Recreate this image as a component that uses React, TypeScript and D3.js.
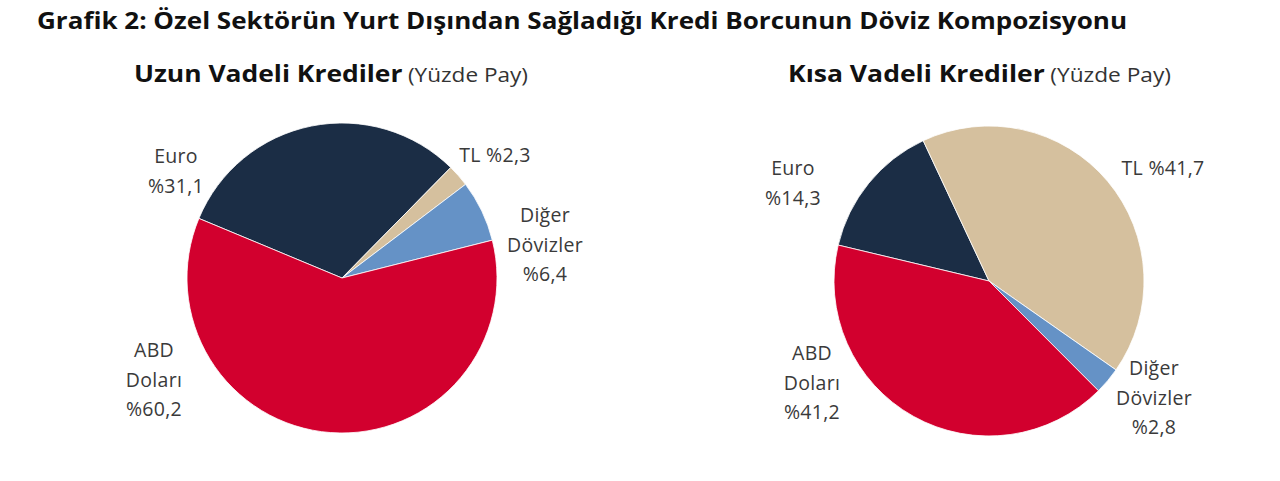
import React from 'react';
import * as d3 from 'd3';

const W = 1280;
const H = 481;

const chartTitle = 'Grafik 2: Özel Sektörün Yurt Dışından Sağladığı Kredi Borcunun Döviz Kompozisyonu';

// slice order, clockwise
const currencies = ['Euro', 'TL', 'Diğer Dövizler', 'ABD Doları'];
const currencyColors = ['#1b2d45', '#d5c09e', '#6592c6', '#d2002e'];

const longTermShares = [31.1, 2.3, 6.4, 60.2];
const shortTermShares = [14.3, 41.7, 2.8, 41.2];

const longTermLabels = [['Euro', '%31,1'], ['TL %2,3'], ['Diğer', 'Dövizler', '%6,4'], ['ABD', 'Doları', '%60,2']];
const shortTermLabels = [['Euro', '%14,3'], ['TL %41,7'], ['Diğer', 'Dövizler', '%2,8'], ['ABD', 'Doları', '%41,2']];

type PieSpec = {
    title: string;
    shares: number[];
    labels: string[][];
    cx: number;
    cy: number;
    r: number;
    startAngle: number; // degrees, clockwise from 12 o'clock
    titleX: number;
    titleW: number;
    labelPos: [number, number][]; // label anchor relative to centre (first baseline)
};

const pies: PieSpec[] = [
    {
        title: 'Uzun Vadeli Krediler',
        shares: longTermShares,
        labels: longTermLabels,
        cx: 342,
        cy: 278,
        r: 155,
        startAngle: -67.4,
        titleX: 134,
        titleW: 394,
        labelPos: [[-166, -115], [153, -116], [203, -56], [-188, 79]]
    },
    {
        title: 'Kısa Vadeli Krediler',
        shares: shortTermShares,
        labels: shortTermLabels,
        cx: 989,
        cy: 281,
        r: 155,
        startAngle: -76.6,
        titleX: 788,
        titleW: 383,
        labelPos: [[-196, -106], [174, -106], [165, 94], [-177, 79]]
    }
];

const LINE = 29.5;
const FONT = "'Open Sans', sans-serif";

function Pie({ spec }: { spec: PieSpec }) {
    const start = (spec.startAngle * Math.PI) / 180;
    const layout = d3.pie<number>()
        .sort(null)
        .value((d) => d)
        .startAngle(start)
        .endAngle(start + 2 * Math.PI);
    const arc = d3.arc<d3.PieArcDatum<number>>()
        .innerRadius(0)
        .outerRadius(spec.r);
    const arcs = layout(spec.shares);

    return (
        <g>
            <text
                x={spec.titleX}
                y={82}
                fontFamily={FONT}
                fill="#111"
                textLength={spec.titleW}
                lengthAdjust="spacingAndGlyphs"
            >
                <tspan fontWeight={700} fontSize={24}>{spec.title}</tspan>
                <tspan fontSize={20.5} fill="#333" dx={5}>(Yüzde Pay)</tspan>
            </text>
            <g transform={`translate(${spec.cx},${spec.cy})`}>
                {arcs.map((a, i) => (
                    <path
                        key={currencies[i]}
                        d={arc(a) ?? ''}
                        fill={currencyColors[i]}
                        stroke="#fff"
                        strokeWidth={0.8}
                    />
                ))}
                {spec.labels.map((lines, i) => (
                    <text
                        key={i}
                        x={spec.labelPos[i][0]}
                        y={spec.labelPos[i][1]}
                        textAnchor="middle"
                        fontFamily={FONT}
                        fontSize={19.5}
                        letterSpacing={0.3}
                        fill="#3a3a3a"
                    >
                        {lines.map((l, j) => (
                            <tspan key={j} x={spec.labelPos[i][0]} dy={j === 0 ? 0 : LINE}>{l}</tspan>
                        ))}
                    </text>
                ))}
            </g>
        </g>
    );
}

export default function App() {
    return (
        <svg
            width={W}
            height={H}
            viewBox={`0 0 ${W} ${H}`}
            style={{ position: 'absolute', left: 0, top: 0, background: '#fff' }}
        >
            <rect width={W} height={H} fill="#fff" />
            <text
                x={37}
                y={29}
                fontFamily={FONT}
                fontWeight={700}
                fontSize={24}
                fill="#111"
                textLength={1090}
                lengthAdjust="spacingAndGlyphs"
            >
                {chartTitle}
            </text>
            {pies.map((p) => (
                <Pie key={p.title} spec={p} />
            ))}
        </svg>
    );
}
